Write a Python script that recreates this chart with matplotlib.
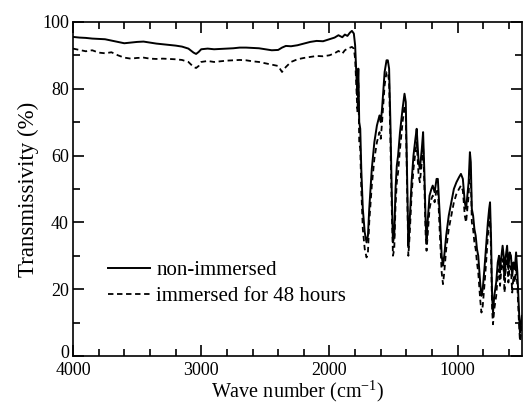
import matplotlib
matplotlib.use("Agg")
import matplotlib.pyplot as plt
import matplotlib.transforms as mtransforms
from matplotlib.ticker import MultipleLocator

plt.rcParams['font.family'] = ['Liberation Serif', 'DejaVu Serif']
plt.rcParams['mathtext.fontset'] = 'custom'
plt.rcParams['mathtext.rm'] = 'Liberation Serif'

wavenumber = [4000, 3950, 3900, 3850, 3800, 3750, 3700, 3650, 3600, 3550, 3500, 3450, 3400, 3350,
              3300, 3250, 3200, 3150, 3100, 3060, 3040, 3020, 3000, 2950, 2900, 2850, 2800, 2750,
              2700, 2650, 2600, 2550, 2500, 2450, 2400, 2370, 2340, 2300, 2250, 2200, 2150, 2100,
              2050, 2000, 1960, 1930, 1900, 1880, 1860, 1840, 1825, 1810, 1800, 1790, 1782, 1775,
              1768, 1760, 1752, 1740, 1725, 1711, 1700, 1690, 1670, 1650, 1630, 1610, 1600, 1590,
              1570, 1555, 1545, 1535, 1525, 1515, 1505, 1495, 1485, 1475, 1465, 1450, 1430, 1415,
              1405, 1395, 1385, 1375, 1360, 1345, 1330, 1320, 1305, 1295, 1280, 1270, 1260, 1250,
              1243, 1235, 1220, 1205, 1195, 1180, 1165, 1155, 1140, 1125, 1115, 1105, 1090, 1070,
              1050, 1030, 1010, 990, 975, 960, 945, 935, 925, 915, 905, 898, 890, 880, 870, 860,
              850, 840, 825, 815, 805, 790, 775, 765, 755, 748, 740, 732, 725, 715, 700, 688, 678,
              670, 662, 650, 642, 635, 628, 615, 605, 595, 585, 575, 565, 555, 545, 535, 525, 515,
              505, 500]

non_immersed = [95.5, 95.3, 95.2, 95.0, 94.9, 94.8, 94.4, 94.0, 93.6, 93.8, 94.0, 94.1, 93.8, 93.5,
                93.3, 93.1, 92.9, 92.6, 92.0, 90.8, 90.4, 91.0, 91.8, 92.0, 91.8, 91.9, 92.0, 92.1,
                92.3, 92.3, 92.2, 92.1, 91.8, 91.5, 91.6, 92.3, 92.8, 92.7, 93.0, 93.5, 94.0, 94.3,
                94.2, 94.8, 95.3, 96.0, 95.4, 96.2, 95.8, 96.8, 97.3, 96.5, 93.0, 84.0, 78.0, 86.0,
                70.0, 68.0, 56.0, 44.0, 37.0, 34.0, 36.0, 44.0, 56.0, 64.0, 69.0, 72.0, 70.0, 74.0,
                85.0, 88.5, 88.5, 86.0, 70.0, 50.0, 34.0, 36.0, 50.0, 57.0, 60.0, 67.0, 74.0, 78.5,
                76.0, 55.0, 33.0, 40.0, 52.0, 60.0, 65.0, 68.0, 58.0, 56.0, 62.0, 67.0, 55.0, 40.0,
                35.0, 40.0, 48.0, 50.0, 51.0, 49.0, 53.0, 53.0, 42.0, 30.0, 27.0, 30.0, 36.0, 42.0,
                46.0, 50.0, 52.0, 53.5, 54.5, 53.0, 46.0, 44.0, 48.0, 52.0, 61.0, 58.0, 44.0, 42.0,
                38.0, 36.0, 32.0, 30.0, 22.0, 18.0, 20.0, 27.0, 35.0, 40.0, 44.0, 46.0, 35.0, 18.0,
                13.0, 18.0, 22.0, 28.0, 30.0, 25.0, 29.0, 33.0, 30.0, 24.0, 29.0, 33.0, 26.0, 31.0,
                30.0, 24.0, 28.0, 26.0, 31.0, 25.0, 16.0, 7.0, 10.0, 12.0]

immersed_48h = [92.0, 91.6, 91.2, 91.5, 90.8, 90.6, 90.9, 90.0, 89.3, 89.0, 89.2, 89.3, 89.0, 88.9,
                89.0, 88.9, 88.8, 88.6, 88.0, 86.5, 86.2, 86.8, 88.0, 88.3, 88.0, 88.2, 88.4, 88.5,
                88.6, 88.5, 88.2, 88.0, 87.6, 87.2, 86.8, 85.0, 86.5, 88.0, 88.8, 89.2, 89.5, 89.8,
                89.7, 90.0, 90.6, 91.3, 90.5, 91.5, 92.0, 92.3, 92.5, 92.0, 89.0, 80.0, 73.0, 82.0,
                64.0, 62.0, 50.0, 38.0, 32.0, 29.5, 31.0, 40.0, 51.0, 59.0, 64.0, 67.0, 65.0, 70.0,
                81.0, 85.0, 85.0, 82.0, 65.0, 45.0, 30.0, 32.0, 45.0, 52.0, 55.0, 62.0, 70.0, 75.0,
                72.0, 51.0, 30.0, 36.0, 48.0, 56.0, 61.0, 64.0, 54.0, 52.0, 58.0, 63.0, 51.0, 36.0,
                31.5, 36.0, 44.0, 47.0, 48.0, 46.0, 50.0, 50.0, 37.0, 25.0, 21.5, 25.0, 32.0, 38.0,
                42.0, 46.0, 48.5, 50.0, 51.0, 49.5, 42.0, 40.0, 44.0, 48.0, 57.0, 54.0, 40.0, 38.0,
                34.0, 32.0, 28.0, 25.0, 17.0, 13.0, 15.0, 22.0, 30.0, 36.0, 40.0, 42.0, 31.0, 14.0,
                9.5, 14.0, 18.0, 24.0, 26.0, 21.0, 25.0, 29.0, 26.0, 19.0, 25.0, 29.0, 22.0, 27.0,
                26.0, 19.0, 24.0, 22.0, 27.0, 21.0, 12.0, 4.5, 7.0, 9.0]

series_labels = ["non-immersed", "immersed for 48 hours"]

fig = plt.figure(figsize=(5.25, 4.05), dpi=100)
ax = fig.add_axes([0.139, 0.121, 0.855, 0.825])

ax.plot(wavenumber, non_immersed, color='black', lw=1.4, ls='-', label=series_labels[0])
ax.plot(wavenumber, immersed_48h, color='black', lw=1.3, ls=(0, (3, 2)), label=series_labels[1])

ax.set_xlim(4000, 500)
ax.set_ylim(0, 100)
ax.set_yticks([0, 20, 40, 60, 80, 100])
ax.xaxis.set_major_locator(MultipleLocator(1000))
ax.xaxis.set_minor_locator(MultipleLocator(200))
ax.yaxis.set_minor_locator(MultipleLocator(10))
ax.tick_params(which='both', direction='in', top=True, right=True, labelsize=13, width=1.2)
ax.tick_params(which='major', length=8)
ax.tick_params(axis='x', which='major', pad=4)
ax.tick_params(axis='y', which='major', pad=3)
ax.tick_params(which='minor', length=5)
for s in ax.spines.values():
    s.set_linewidth(1.2)

ax.set_xlabel('Wave number (cm$^{-1}$)', fontsize=14.5, labelpad=0)
ax.set_ylabel('Transmissivity (%)', fontsize=16.5, labelpad=2)

# nudge the "0" y tick label up slightly so it clears the "4000" x tick label
zero_label = ax.yaxis.get_major_ticks()[0].label1
zero_label.set_transform(zero_label.get_transform() +
                         mtransforms.ScaledTranslation(0, 4 / 100, fig.dpi_scale_trans))

leg = ax.legend(loc='lower left', bbox_to_anchor=(0.06, 0.125), frameon=False, fontsize=15,
                handlelength=2.0, handletextpad=0.3, labelspacing=0.3, borderaxespad=0)

fig.savefig('out.png', dpi=100)
